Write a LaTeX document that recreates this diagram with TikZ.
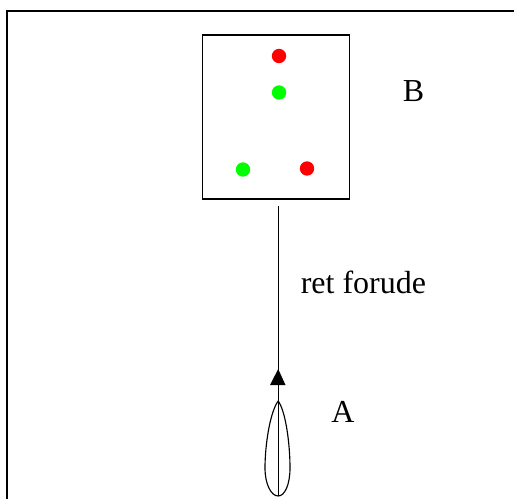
\documentclass[tikz,border=0pt]{standalone}
\usepackage{fontspec}
\setmainfont{Liberation Serif}
\usetikzlibrary{arrows.meta}
\tikzset{
  frameline/.style={line width=1.5pt,black},
  thin line/.style={line width=0.85pt,black},
  dot/.style={circle,inner sep=0pt,minimum size=10.8pt},
  lbl/.style={inner sep=0pt,font=\fontsize{24}{28}\selectfont,anchor=base west},
}
\definecolor{dotgreen}{RGB}{0,255,0}
\definecolor{dotred}{RGB}{255,0,0}
\begin{document}
\begin{tikzpicture}[x=0.75pt,y=-0.75pt]
\useasboundingbox (0,0) rectangle (514,499);
\coordinate (fa) at (6.5,499);
\coordinate (fb) at (6.5,11);
\coordinate (fc) at (514,11);
\draw[frameline] (fa) -- (fb) -- (fc);
\node[draw,thin line,minimum width=110pt,minimum height=123pt,inner sep=0pt] (box) at (276,117) {};
\node[dot,fill=dotred] (r1) at (279,56) {};
\node[dot,fill=dotgreen] (g1) at (279,92.5) {};
\node[dot,fill=dotgreen] (g2) at (243,169.5) {};
\node[dot,fill=dotred] (r2) at (307,168.5) {};
\node[lbl] (lb) at (402.5,102) {B};
\node[lbl] (lr) at (300.5,293) {ret forude};
\node[lbl] (la) at (331,422) {A};
\coordinate (top) at (278.2,206);
\coordinate (tip) at (278.2,369);
\coordinate (bot) at (278.2,496);
\coordinate (leaftop) at (278.2,401);
\draw[thin line] (top) -- (tip);
\draw[thin line] (tip) -- (bot);
\fill (tip) -- (285.5,385) -- (270,385) -- cycle;
\draw[thin line] (leaftop) .. controls (270,412) and (265,445) .. (265,468)
  .. controls (265,484) and (271,496) .. (bot)
  .. controls (285,496) and (290,484) .. (290,468)
  .. controls (290,445) and (286,412) .. (leaftop);
\end{tikzpicture}
\end{document}
